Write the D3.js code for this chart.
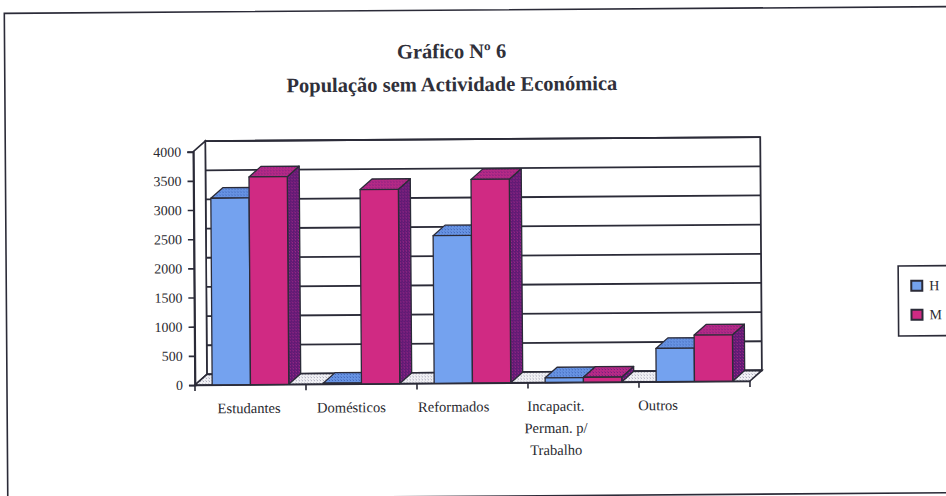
<!DOCTYPE html>
<html>
<head>
<meta charset="utf-8">
<script src="https://cdn.jsdelivr.net/npm/d3@7/dist/d3.min.js"></script>
<style>
  body { margin: 0; background: #ffffff; }
  svg { display: block; }
</style>
</head>
<body>
<svg id="chart" width="946" height="496"></svg>
<script>
// ---- data ----
const categories = ["Estudantes", "Domésticos", "Reformados", "Incapacit. Perman. p/ Trabalho", "Outros"];
const categoryLines = [["Estudantes"], ["Domésticos"], ["Reformados"], ["Incapacit.", "Perman. p/", "Trabalho"], ["Outros"]];
const seriesNames = ["H", "M"];
const valuesH = [3200, 15, 2530, 80, 570];
const valuesM = [3560, 3330, 3490, 85, 795];
const yTicks = [0, 500, 1000, 1500, 2000, 2500, 3000, 3500, 4000];
const titleLines = ["Gráfico Nº 6", "População sem Actividade Económica"];

// ---- look ----
const ink = "#2b2b38";
const serif = "'Liberation Serif', 'Times New Roman', serif";
const fills = {
  H: { front: "#74a2ef", top: ["#6894e4", "#3d62b4"], side: ["#4f7cd0", "#2f4f9c"] },
  M: { front: "#d02a83", top: ["#b82a86", "#6e1d7c"], side: ["#5f1a74", "#b02c8c"] }
};

const svg = d3.select("#chart");
const defs = svg.append("defs");

// small dithered textures for the shaded faces
function texture(id, base, dot) {
  const p = defs.append("pattern").attr("id", id)
    .attr("patternUnits", "userSpaceOnUse").attr("width", 3).attr("height", 3);
  p.append("rect").attr("width", 3).attr("height", 3).attr("fill", base);
  p.append("rect").attr("x", 1).attr("y", 1).attr("width", 1).attr("height", 1).attr("fill", dot);
  p.append("rect").attr("x", 0).attr("y", 0).attr("width", 1).attr("height", 1).attr("fill", dot).attr("opacity", 0.5);
}
texture("H-top", fills.H.top[0], fills.H.top[1]);
texture("H-side", fills.H.side[0], fills.H.side[1]);
texture("M-top", fills.M.top[0], fills.M.top[1]);
texture("M-side", fills.M.side[0], fills.M.side[1]);
texture("floor", "#f1f1f5", "#a4a4b6");

// whole sheet sits very slightly askew
const g = svg.append("g").attr("transform", "rotate(-0.41, 473, 248)");

// outer frame
g.append("rect")
  .attr("x", 6).attr("y", 10).attr("width", 980).attr("height", 486.2)
  .attr("fill", "none").attr("stroke", ink).attr("stroke-width", 1.6);

// title
g.append("g").selectAll("text").data(titleLines).join("text")
  .attr("x", 453).attr("y", (d, i) => 58 + i * 33)
  .attr("text-anchor", "middle")
  .attr("font-family", serif).attr("font-weight", "bold").attr("font-size", 20.5)
  .attr("fill", "#30303a")
  .text(d => d);

// ---- scales ----
const depth = { dx: 12, dy: -10.5 };
const x = d3.scaleBand().domain(categories).range([194, 749]).paddingInner(0).paddingOuter(0);
const y = d3.scaleLinear().domain([0, 4000]).range([383, 149.7]);
const series = d3.scaleBand().domain(seriesNames).range([0, x.bandwidth() * 0.69]);
const groupOffset = x.bandwidth() * 0.155;
const labelX = d3.scalePoint().domain(categories).range([248, 657]);

const X0 = x.range()[0], X1 = x.range()[1];
const Y0 = y(0), YT = y(4000);
const pts = a => a.map(p => p.join(",")).join(" ");

// back wall
g.append("polygon")
  .attr("points", pts([[X0 + depth.dx, YT + depth.dy], [X1 + depth.dx, YT + depth.dy],
                       [X1 + depth.dx, Y0 + depth.dy], [X0 + depth.dx, Y0 + depth.dy]]))
  .attr("fill", "#fff").attr("stroke", ink).attr("stroke-width", 1.8);

// gridlines on back wall
g.append("g").selectAll("line").data(yTicks).join("line")
  .attr("x1", X0 + depth.dx).attr("x2", X1 + depth.dx)
  .attr("y1", d => y(d) + depth.dy).attr("y2", d => y(d) + depth.dy)
  .attr("stroke", ink).attr("stroke-width", 1.8);

// side wall outline
g.append("polygon")
  .attr("points", pts([[X0, YT], [X0 + depth.dx, YT + depth.dy], [X0 + depth.dx, Y0 + depth.dy], [X0, Y0]]))
  .attr("fill", "#fff").attr("stroke", ink).attr("stroke-width", 1.6);

// floor
g.append("polygon")
  .attr("points", pts([[X0, Y0], [X1, Y0], [X1 + depth.dx, Y0 + depth.dy], [X0 + depth.dx, Y0 + depth.dy]]))
  .attr("fill", "url(#floor)").attr("stroke", ink).attr("stroke-width", 1.6);

// value axis
const yAxis = d3.axisLeft(y).tickValues(yTicks).tickSize(6).tickPadding(6).tickFormat(d3.format("d"));
const ya = g.append("g").attr("transform", `translate(${X0},0)`).call(yAxis);
ya.select(".domain").attr("stroke", ink).attr("stroke-width", 1.8);
ya.selectAll(".tick line").attr("stroke", ink).attr("stroke-width", 1.6);
ya.selectAll(".tick text").attr("font-family", serif).attr("font-size", 14).attr("fill", "#2a2a30");

// category axis ticks
const xa = g.append("g").attr("transform", `translate(0,${Y0})`)
  .call(d3.axisBottom(x).tickSize(0).tickFormat(""));
xa.select(".domain").attr("stroke", ink).attr("stroke-width", 1.6);
xa.selectAll(".tick").remove();
g.append("g").selectAll("line").data(categories.map(c => x(c)).concat([X1])).join("line")
  .attr("x1", d => d).attr("x2", d => d).attr("y1", Y0).attr("y2", Y0 + 6)
  .attr("stroke", ink).attr("stroke-width", 1.6);

// category labels
const labels = g.append("g").selectAll("text").data(categories).join("text")
  .attr("x", d => labelX(d)).attr("y", 411.5)
  .attr("text-anchor", "middle")
  .attr("font-family", serif).attr("font-size", 14.6).attr("fill", "#2a2a30");
labels.each(function (d, i) {
  d3.select(this).selectAll("tspan").data(categoryLines[i]).join("tspan")
    .attr("x", labelX(d)).attr("dy", (t, j) => j === 0 ? 0 : 22)
    .text(t => t);
});

// ---- 3D columns ----
const rows = categories.map((c, i) => ({ c, H: valuesH[i], M: valuesM[i] }));
const bars = g.append("g");
rows.forEach(r => {
  seriesNames.forEach(s => {
    const v = r[s];
    const xl = x(r.c) + groupOffset + series(s);
    const w = series.bandwidth();
    const yt = y(v), yb = y(0);
    const b = bars.append("g").attr("stroke", ink).attr("stroke-width", 1.3).attr("stroke-linejoin", "round");
    b.append("polygon")
      .attr("points", pts([[xl + w, yt], [xl + w + depth.dx, yt + depth.dy], [xl + w + depth.dx, yb + depth.dy], [xl + w, yb]]))
      .attr("fill", `url(#${s}-side)`);
    b.append("polygon")
      .attr("points", pts([[xl, yt], [xl + w, yt], [xl + w + depth.dx, yt + depth.dy], [xl + depth.dx, yt + depth.dy]]))
      .attr("fill", `url(#${s}-top)`);
    b.append("rect")
      .attr("x", xl).attr("y", yt).attr("width", w).attr("height", yb - yt)
      .attr("fill", fills[s].front);
  });
});

// ---- legend ----
const lg = g.append("g");
lg.append("rect").attr("x", 898).attr("y", 269).attr("width", 80).attr("height", 70)
  .attr("fill", "#fff").attr("stroke", ink).attr("stroke-width", 1.6);
const li = lg.selectAll("g").data(seriesNames).join("g")
  .attr("transform", (d, i) => `translate(911,${284 + i * 29})`);
li.append("rect").attr("width", 11).attr("height", 10)
  .attr("fill", d => fills[d].front).attr("stroke", ink).attr("stroke-width", 2);
li.append("text").attr("x", 18).attr("y", 9.5)
  .attr("font-family", serif).attr("font-size", 14).attr("fill", "#2a2a30")
  .text(d => d);
</script>
</body>
</html>
